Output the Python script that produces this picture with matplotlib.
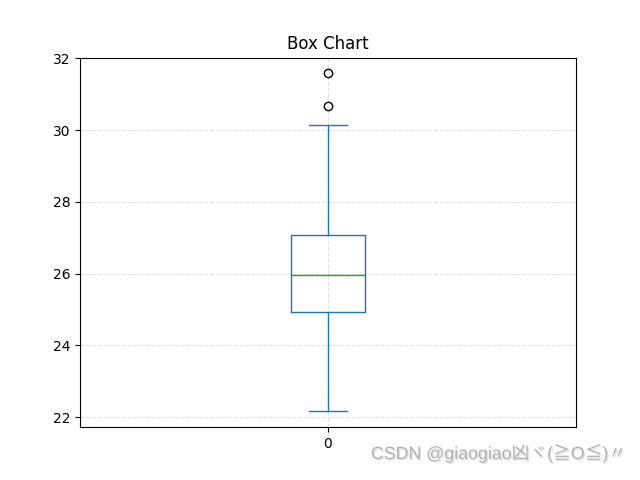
import matplotlib
matplotlib.use('Agg')
import matplotlib.pyplot as plt
import matplotlib.patheffects as pe

# box statistics
labels = ['0']
whisker_low = [22.17]
q1 = [24.94]
median = [25.97]
q3 = [27.07]
whisker_high = [30.15]
outliers = [[30.66, 31.58]]

stats = []
for i in range(len(labels)):
    stats.append({'label': labels[i], 'whislo': whisker_low[i], 'q1': q1[i],
                  'med': median[i], 'q3': q3[i], 'whishi': whisker_high[i],
                  'fliers': outliers[i]})

fig, ax = plt.subplots(figsize=(6.4, 4.8), dpi=100)
blue = '#1f77b4'
ax.bxp(stats,
       boxprops=dict(color=blue),
       whiskerprops=dict(color=blue),
       capprops=dict(color=blue),
       medianprops=dict(color='#2ca02c'),
       flierprops=dict(marker='o', markeredgecolor='black', markerfacecolor='none'))
ax.set_xlim(0.5, 1.5)
ax.set_ylim(21.72, 32.02)
ax.grid(True, linestyle='--', color='#cccccc', alpha=0.6)
ax.set_axisbelow(True)
ax.set_title('Box Chart')

fig.text(0.978, 0.055, 'CSDN @giaogiao凶ヾ(≧O≦)〃', ha='right', va='center',
         fontsize=12.8, color='#b0b0b0',
         family=['Liberation Sans', 'Noto Sans CJK JP', 'DejaVu Sans'],
         path_effects=[pe.withSimplePatchShadow(offset=(1, -1), shadow_rgbFace='#dddddd', alpha=0.8)])

fig.savefig('out.png', dpi=100)
